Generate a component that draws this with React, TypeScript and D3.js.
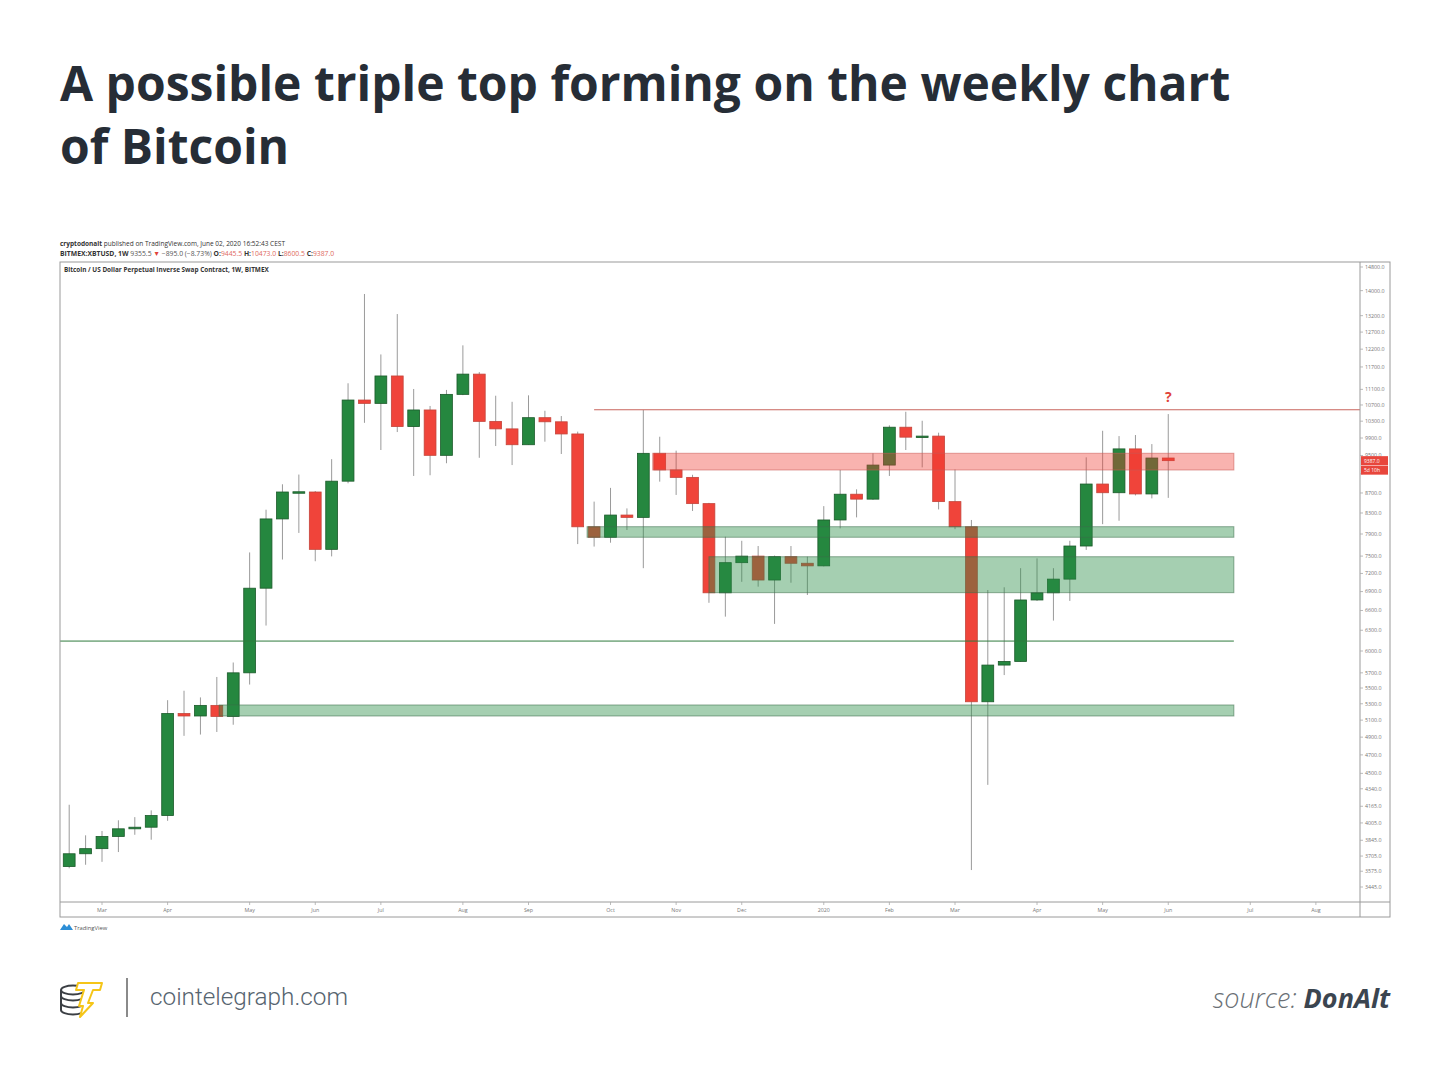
import React from 'react';
import * as d3 from 'd3';

// ---------- DATA ----------
const weeks = [
  '2019-02-18','2019-02-25','2019-03-04','2019-03-11','2019-03-18','2019-03-25','2019-04-01','2019-04-08',
  '2019-04-15','2019-04-22','2019-04-29','2019-05-06','2019-05-13','2019-05-20','2019-05-27','2019-06-03',
  '2019-06-10','2019-06-17','2019-06-24','2019-07-01','2019-07-08','2019-07-15','2019-07-22','2019-07-29',
  '2019-08-05','2019-08-12','2019-08-19','2019-08-26','2019-09-02','2019-09-09','2019-09-16','2019-09-23',
  '2019-09-30','2019-10-07','2019-10-14','2019-10-21','2019-10-28','2019-11-04','2019-11-11','2019-11-18',
  '2019-11-25','2019-12-02','2019-12-09','2019-12-16','2019-12-23','2019-12-30','2020-01-06','2020-01-13',
  '2020-01-20','2020-01-27','2020-02-03','2020-02-10','2020-02-17','2020-02-24','2020-03-02','2020-03-09',
  '2020-03-16','2020-03-23','2020-03-30','2020-04-06','2020-04-13','2020-04-20','2020-04-27','2020-05-04',
  '2020-05-11','2020-05-18','2020-05-25','2020-06-01',
];
const opens = [
  3615,3725,3770,3880,3950,3965,4075,5180,5150,5280,5145,5700,6955,8185,8720,8720,
  7620,8945,10825,10740,11455,10170,10575,9505,10970,11505,10295,10115,9745,10385,10285,9995,
  8035,7840,8260,8215,9550,9185,9025,8485,6880,7385,7500,7090,7490,7375,7330,8165,
  8675,8575,9290,10155,9920,9945,8525,8035,5325,5805,5855,6765,6880,7105,7680,8885,
  8705,9650,8680,9445.5,
];
const highs = [
  4180,3890,3930,4030,4060,4125,5345,5465,5380,5645,5840,7565,8365,8880,9085,8740,
  9420,11260,13890,12050,13250,11110,10675,11085,12310,11560,10935,10780,10945,10555,10425,10050,
  8525,8805,8390,10575,9930,9610,9080,8500,7850,7775,7680,7510,7680,7490,8435,9185,
  8775,9550,10200,10530,10310,10025,9195,8165,6925,6970,7290,7460,7290,7775,9460,10070,
  9945,9970,9760,10473,
];
const lows = [
  3600,3630,3655,3740,3895,3850,4025,4915,4930,4960,5045,5545,6370,7440,7920,7410,
  7495,8900,10260,9625,10040,9055,9070,9330,10950,9450,9715,9290,9740,9815,9535,7715,
  7670,7740,7975,7290,8935,8660,8340,6720,6505,7060,6980,6395,7045,6845,7320,8005,
  8215,8560,9055,9625,9240,8370,7990,3585,4380,5670,5850,6750,6445,6750,7610,8085,
  8150,8650,8590,8600.5,
];
const closes = [
  3725,3770,3880,3950,3965,4075,5180,5150,5280,5145,5700,6955,8185,8720,8725,7620,
  8945,10825,10740,11455,10170,10575,9505,10970,11505,10295,10115,9745,10385,10285,9995,8035,
  7840,8260,8215,9550,9185,9025,8485,6880,7385,7500,7090,7490,7375,7330,8165,8675,
  8575,9290,10155,9920,9945,8525,8035,5325,5805,5855,6765,6880,7105,7680,8885,8705,
  9650,8680,9445,9387,
];

// price-scale labels (9100 sits behind the countdown badge, so only its tick shows)
const priceTicks = [14800,14000,13200,12700,12200,11700,11100,10700,10300,9900,9500,9100,8700,8300,7900,
  7500,7200,6900,6600,6300,6000,5700,5500,5300,5100,4900,4700,4500,4340,4165,4005,3845,3705,3575,3445];
const hiddenPriceLabels = [9100];

const timeTickDates = ['2019-03-04','2019-04-01','2019-05-06','2019-06-03','2019-07-01','2019-08-05',
  '2019-09-02','2019-10-07','2019-11-04','2019-12-02','2020-01-06','2020-02-03','2020-03-02','2020-04-06',
  '2020-05-04','2020-06-01','2020-07-06','2020-08-03'];
const timeTickLabels = ['Mar','Apr','May','Jun','Jul','Aug','Sep','Oct','Nov','Dec','2020','Feb','Mar',
  'Apr','May','Jun','Jul','Aug'];

// annotation zones (price ranges) drawn by the author
const zoneStarts = ['2019-09-27','2019-11-18','2019-04-23','2019-10-25'];
const zoneEnds = ['2020-06-29','2020-06-29','2020-06-29','2020-06-29'];
const zoneLows = [7840, 6882, 5150, 9183];
const zoneHighs = [8037, 7489, 5285, 9551];
const zoneKinds = ['support','support','support','resistance'];

const supportLinePrice = 6142;
const supportLineEnd = '2020-06-29';
const topLinePrice = 10580;
const topLineStart = '2019-09-30';

const lastPrice = 9387;

// ---------- LAYOUT ----------
const W = 1450, H = 1078;
const plotL = 60, plotR = 1360, axisR = 1390, plotT = 262, plotB = 902, axisB = 917;

const GREEN = '#25873f', GREEN_S = '#1b5a2a', RED = '#f0443a', RED_S = '#c4453b', WICK = '#9a9a9a';

const parse = (s: string) => new Date(s + 'T00:00:00Z');

const x = d3.scaleUtc()
  .domain([parse('2019-03-04'), parse('2020-03-02')])
  .range([102, 955]);
const y = d3.scaleLog().domain([3445, 14800]).range([887, 267]);
const step = x(parse('2019-03-11')) - x(parse('2019-03-04'));
const bodyW = step * 0.72;

const candles = weeks.map((w, i) => ({
  t: parse(w), o: opens[i], h: highs[i], l: lows[i], c: closes[i],
}));

const hdr = 'Open Sans, sans-serif';

function Logo() {
  return (
    <g>
      <g fill="#fff" stroke="#3b3f44" strokeWidth={2}>
        <path d="M61,1006 v4 a12,4.5 0 0 0 24,0 v-4" />
        <path d="M61,999 v4 a12,4.5 0 0 0 24,0 v-4" />
        <path d="M61,992 v4 a12,4.5 0 0 0 24,0 v-4" />
        <ellipse cx={73} cy={990} rx={12} ry={4.5} />
        <path d="M61,990 v16" fill="none" />
      </g>
      <path d="M78,983 L102,983 L100,990 L93,990 L88,1003 L93,1003 L80,1017 L83,1006 L79,1006 L84,990 L76,990 Z"
        fill="#fff" stroke="#f5c518" strokeWidth={2} strokeLinejoin="round" />
    </g>
  );
}

export default function App() {
  const clipId = 'plotclip';
  return (
    <svg width={W} height={H} viewBox={`0 0 ${W} ${H}`}
      style={{ position: 'absolute', left: 0, top: 0, background: '#fff', display: 'block' }}>
      <rect x={0} y={0} width={W} height={H} fill="#fff" />
      {/* Title */}
      <text x={60} y={101} fontFamily={hdr} fontWeight={700} fontSize={48} fill="#262d36">
        A possible triple top forming on the weekly chart
      </text>
      <text x={60} y={164} fontFamily={hdr} fontWeight={700} fontSize={48} fill="#262d36">
        of Bitcoin
      </text>

      {/* TradingView header */}
      <text x={60} y={246} fontFamily={hdr} fontSize={6.5} fill="#333">
        <tspan fontWeight={700}>cryptodonalt</tspan> published on TradingView.com, June 02, 2020 16:52:43 CEST
      </text>
      <text x={60} y={256} fontFamily={hdr} fontSize={6.8} fill="#333">
        <tspan fontWeight={700}>BITMEX:XBTUSD, 1W</tspan>
        <tspan fill="#555"> 9355.5 </tspan>
        <tspan fill="#e0433a">▼</tspan>
        <tspan fill="#555"> −895.0 (−8.73%) </tspan>
        <tspan fontWeight={700}>O:</tspan><tspan fill="#e06a60">9445.5 </tspan>
        <tspan fontWeight={700}>H:</tspan><tspan fill="#e06a60">10473.0 </tspan>
        <tspan fontWeight={700}>L:</tspan><tspan fill="#e06a60">8600.5 </tspan>
        <tspan fontWeight={700}>C:</tspan><tspan fill="#e06a60">9387.0</tspan>
      </text>

      <defs>
        <clipPath id={clipId}>
          <rect x={plotL} y={plotT} width={plotR - plotL} height={plotB - plotT} />
        </clipPath>
      </defs>

      <g clipPath={`url(#${clipId})`}>
        {/* candles */}
        {candles.map((d, i) => {
          const cx = x(d.t);
          const up = d.c >= d.o;
          const top = y(Math.max(d.o, d.c));
          const bot = y(Math.min(d.o, d.c));
          const hgt = Math.max(1.5, bot - top);
          return (
            <g key={i}>
              <line x1={cx} x2={cx} y1={y(d.h)} y2={y(d.l)} stroke={WICK} strokeWidth={1} />
              <rect x={cx - bodyW / 2} y={top} width={bodyW} height={hgt}
                fill={up ? GREEN : RED} stroke={up ? GREEN_S : RED_S} strokeWidth={0.8} />
            </g>
          );
        })}

        {/* zones */}
        {zoneStarts.map((s, i) => {
          const x0 = x(parse(s));
          const x1 = x(parse(zoneEnds[i]));
          const y0 = y(zoneHighs[i]);
          const y1 = y(zoneLows[i]);
          const sup = zoneKinds[i] === 'support';
          return (
            <rect key={i} x={x0} y={y0} width={x1 - x0} height={y1 - y0}
              fill={sup ? 'rgba(40,140,68,0.42)' : 'rgba(238,56,46,0.38)'}
              stroke={sup ? 'rgba(60,110,75,0.55)' : 'rgba(200,90,85,0.55)'} strokeWidth={1} />
          );
        })}

        <line x1={plotL} x2={x(parse(supportLineEnd))} y1={y(supportLinePrice)} y2={y(supportLinePrice)}
          stroke="#2f7a3d" strokeWidth={1} />
        <line x1={x(parse(topLineStart))} x2={plotR} y1={y(topLinePrice)} y2={y(topLinePrice)}
          stroke="#c8655c" strokeWidth={1.2} />
      </g>

      <text x={x(parse('2020-06-01'))} y={402} textAnchor="middle" fontFamily={hdr} fontWeight={700}
        fontSize={14} fill="#e0433a">?</text>

      {/* legend */}
      <text x={64} y={272} fontFamily={hdr} fontWeight={700} fontSize={6.4} fill="#333">
        Bitcoin / US Dollar Perpetual Inverse Swap Contract, 1W, BITMEX
      </text>

      {/* frame lines */}
      <rect x={plotL} y={plotT} width={axisR - plotL} height={axisB - plotT} fill="none" stroke="#9a9a9a" strokeWidth={1} />
      <line x1={plotR} x2={plotR} y1={plotT} y2={axisB} stroke="#9a9a9a" strokeWidth={1} />
      <line x1={plotL} x2={axisR} y1={plotB} y2={plotB} stroke="#9a9a9a" strokeWidth={1} />

      {/* price axis */}
      {priceTicks.map((p) => (
        <g key={p}>
          <line x1={plotR} x2={plotR + 3} y1={y(p)} y2={y(p)} stroke="#aaa" strokeWidth={0.8} />
          {hiddenPriceLabels.includes(p) ? null : (
            <text x={plotR + 5} y={y(p) + 1.9} fontFamily={hdr} fontSize={5.3} fill="#777">{p.toFixed(1)}</text>
          )}
        </g>
      ))}
      <rect x={plotR + 1} y={y(lastPrice) - 4.5} width={27} height={9} fill="#e8463c" />
      <text x={plotR + 4} y={y(lastPrice) + 2} fontFamily={hdr} fontSize={5} fill="#fff">{lastPrice.toFixed(1)}</text>
      <rect x={plotR + 1} y={y(lastPrice) + 5} width={27} height={9} fill="#e8463c" />
      <text x={plotR + 4} y={y(lastPrice) + 11.5} fontFamily={hdr} fontSize={5} fill="#fff">5d 10h</text>

      {/* time axis */}
      {timeTickDates.map((s, i) => {
        const tx = x(parse(s));
        return (
          <g key={s + i}>
            <line x1={tx} x2={tx} y1={plotB} y2={plotB + 3} stroke="#aaa" strokeWidth={0.8} />
            <text x={tx} y={912} textAnchor="middle" fontFamily={hdr} fontSize={5.3} fill="#777">{timeTickLabels[i]}</text>
          </g>
        );
      })}

      {/* TradingView logo */}
      <g>
        <path d="M60,930 L64,924 L67,927 L69,924 L73,930 Z" fill="#2c8ed6" />
        <text x={74} y={929.5} fontFamily={hdr} fontSize={5.8} fill="#555">TradingView</text>
      </g>

      {/* footer */}
      <Logo />
      <line x1={127} x2={127} y1={978} y2={1017} stroke="#8a8a8a" strokeWidth={2} />
      <text x={150} y={1005} fontFamily="Roboto, sans-serif" fontWeight={300} fontSize={24.3} fill="#56646f">
        cointelegraph.com
      </text>
      <text x={1390} y={1008} textAnchor="end" fontFamily="Open Sans, sans-serif" fontStyle="italic" fontSize={27}>
        <tspan fill="#6a6f75" fontWeight={300}>source: </tspan>
        <tspan fill="#3b4550" fontWeight={700}>DonAlt</tspan>
      </text>
    </svg>
  );
}
